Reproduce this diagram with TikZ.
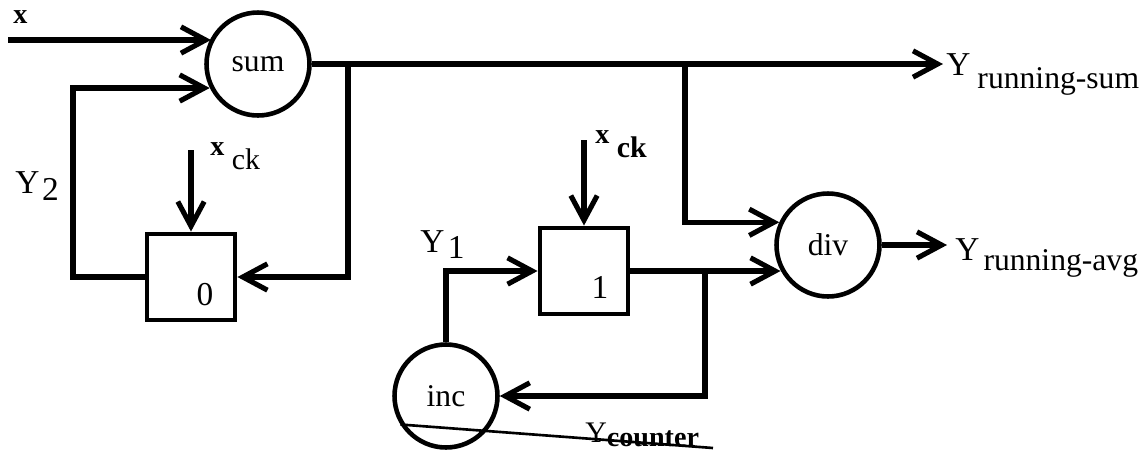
\documentclass[tikz,border=0pt]{standalone}
\usepackage{fontspec}
\setmainfont{Liberation Serif}
\usetikzlibrary{arrows.meta}

\begin{document}
\begin{tikzpicture}[x=0.02cm,y=-0.02cm,>={Straight Barb[length=14pt,width=15pt]},
        wire/.style={line width=2.9pt},
        opnode/.style={circle,draw,line width=2.6pt,minimum size=2.06cm,inner sep=0pt,font=\fontsize{18}{20}\selectfont},
        regbox/.style={draw,line width=2.8pt,minimum width=1.76cm,minimum height=1.72cm,inner sep=0pt},
        lbl/.style={inner sep=0pt,anchor=base west,font=\fontsize{19}{21}\selectfont},
        ckl/.style={inner sep=0pt,anchor=base west,font=\fontsize{17}{19}\selectfont}]
        \useasboundingbox (0,0) rectangle (1147,451);
        \node[opnode] (sum) at (258,64) {sum};
        \node[opnode] (div) at (828,245) {div};
        \node[opnode] (inc) at (446,396) {inc};
        \node[regbox] (box0) at (191,277) {};
        \node[regbox] (box1) at (584,271) {};
        \node[inner sep=0pt,anchor=base,font=\fontsize{19}{21}\selectfont] (val0) at (205,305) {0};
        \node[inner sep=0pt,anchor=base,font=\fontsize{19}{21}\selectfont] (val1) at (600,298) {1};
        \coordinate (xin) at (8,40);
        \coordinate (fb2) at (73,88);
        \coordinate (br0) at (348,64);
        \coordinate (br1) at (685,64);
        \coordinate (br2) at (705,271);
        \coordinate (sumtip) at (943,64);
        \coordinate (avgtip) at (947,245);
        \coordinate (clk0) at (191,150);
        \coordinate (clk1) at (584,140);
        \coordinate (cnt) at (713,448);
        \draw[wire,->] (xin) -- (xin -| sum.151);
        \draw[wire,->] (box0.west) -| (fb2) -- (fb2 -| sum.206);
        \draw[wire,->] (sum.east) -- (sumtip);
        \draw[wire,->] (br0) |- (box0.east);
        \draw[wire,->] (br1) |- (div.155);
        \draw[wire,->] (clk0) -- (box0.north);
        \draw[wire,->] (clk1) -- (box1.north);
        \draw[wire,->] (box1.east) -- (box1.east -| div.208);
        \draw[wire,->] (br2) |- (inc);
        \draw[wire,->] (inc.north) |- (box1.west);
        \draw[wire,->] (div.east) -- (avgtip);
        \draw[line width=1.5pt] (inc.212) -- (cnt);
        \node[inner sep=0pt,anchor=base west,font=\bfseries\fontsize{16}{18}\selectfont] (xlbl) at (13,23) {x};
        \node[ckl] (ck0) at (210,155) {{\bfseries\fontsize{16}{18}\selectfont x} \raisebox{-8.5pt}{ck}};
        \node[ckl,font=\bfseries\fontsize{17}{19}\selectfont] (ck1) at (595,143) {{\fontsize{16}{18}\selectfont x} \raisebox{-8.5pt}{ck}};
        \node[lbl] (y2) at (15,193) {Y\kern1.5pt\raisebox{-4pt}{2}};
        \node[lbl] (y1) at (420,252) {Y\kern2pt\raisebox{-3.5pt}{1}};
        \node[lbl] (ysum) at (946,75) {Y\kern4pt\raisebox{-7.4pt}{\fontsize{18}{20}\selectfont running-sum}};
        \node[lbl] (yavg) at (955,260) {Y\kern2.3pt\raisebox{-5.7pt}{\fontsize{18}{20}\selectfont running-avg}};
        \node[lbl,font=\fontsize{17}{19}\selectfont] (ycnt) at (585,442) {Y\raisebox{-2.8pt}{\bfseries\fontsize{16}{18}\selectfont counter}};
      \end{tikzpicture}
\end{document}
